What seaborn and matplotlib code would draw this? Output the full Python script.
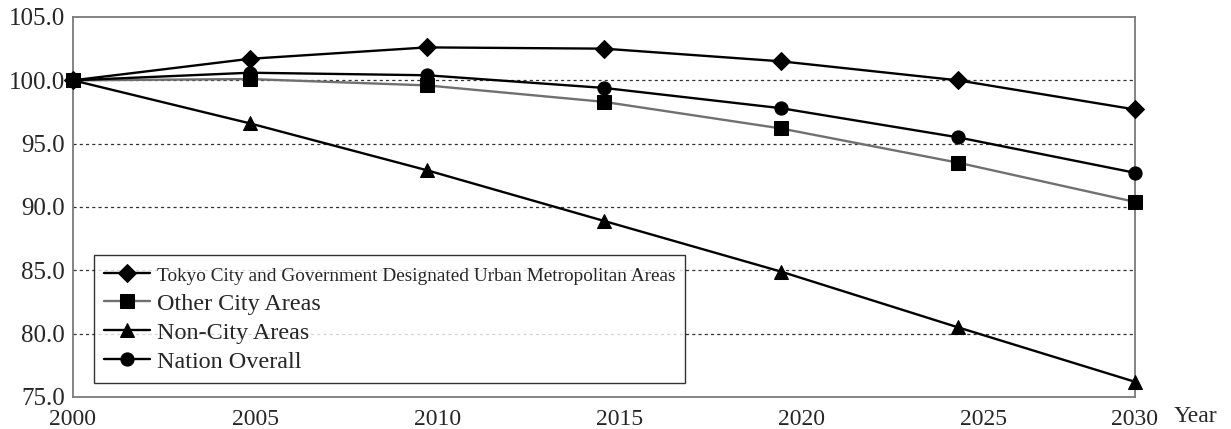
import pandas as pd
import matplotlib
matplotlib.use("Agg")
import matplotlib.pyplot as plt
import matplotlib.transforms as mtransforms
import seaborn as sns

# ==========================================================
# Data (index, 2000 = 100)
# ==========================================================

years = [2000, 2005, 2010, 2015, 2020, 2025, 2030]

tokyo = [100.0, 101.7, 102.6, 102.5, 101.5, 100.0, 97.7]
other_city = [100.0, 100.1, 99.6, 98.3, 96.2, 93.5, 90.4]
non_city = [100.0, 96.6, 92.9, 88.9, 84.9, 80.5, 76.2]
nation = [100.0, 100.6, 100.4, 99.4, 97.8, 95.5, 92.7]

series_names = [
    "Tokyo City and Government Designated Urban Metropolitan Areas",
    "Other City Areas",
    "Non-City Areas",
    "Nation Overall",
]

y_ticks = [75.0, 80.0, 85.0, 90.0, 95.0, 100.0, 105.0]

# ==========================================================
# Plot
# ==========================================================

sns.set_style("white")
plt.rcParams["font.family"] = ["Liberation Serif", "DejaVu Serif"]

fig = plt.figure(figsize=(12.31, 4.29), dpi=100)
ax = fig.add_axes([0.0593, 0.0746, 0.8627, 0.8858])

styles = [
    (tokyo, "D", 9, "black"),
    (other_city, "s", 9.5, "#707070"),
    (non_city, "^", 9.5, "black"),
    (nation, "o", 9.5, "black"),
]

for name, (vals, mk, ms, col) in zip(series_names, styles):
    df = pd.DataFrame({"year": years, "value": vals})
    sns.lineplot(
        data=df, x="year", y="value", ax=ax,
        color=col, linewidth=1.7,
        marker=mk, markersize=ms,
        markerfacecolor="black", markeredgecolor="black",
        label=name, clip_on=False, zorder=3
    )

ax.set_xlim(years[0], years[-1])
ax.set_ylim(y_ticks[0], y_ticks[-1])
ax.set_xticks(years)
ax.set_xticklabels([str(y) for y in years], fontsize=17)
ax.set_yticks(y_ticks)
ax.set_yticklabels([f"{v:.1f}" for v in y_ticks], fontsize=18)
ax.tick_params(axis="x", length=0, pad=9)
ax.tick_params(axis="y", length=0, pad=6)
ax.set_xlabel("")
ax.set_ylabel("")

# the category labels drift a little to the right of the data points,
# except the last one which sits on the right edge
labels = ax.get_xticklabels()
for i, lab in enumerate(labels[:-1]):
    shift = mtransforms.ScaledTranslation(i * 5.2 / 100, 0, fig.dpi_scale_trans)
    lab.set_transform(lab.get_transform() + shift)

for v in y_ticks[1:-1]:
    ax.axhline(v, color="#333333", linewidth=0.9, linestyle=(0, (2.5, 2.5)), zorder=1)

for sp in ax.spines.values():
    sp.set_color("#7a7a7a")
    sp.set_linewidth(1.3)

fig.text(1195 / 1231, 1 - 416 / 429, "Year", fontsize=17, ha="center", va="center")

leg = ax.legend(
    loc="lower left", bbox_to_anchor=(0.0198, 0.038),
    fontsize=17.4, frameon=True, fancybox=False,
    handlelength=1.9, handletextpad=0.3, borderpad=0.4,
    labelspacing=0.3, borderaxespad=0
)
leg.get_frame().set_edgecolor("black")
leg.get_frame().set_linewidth(1.0)
leg.get_texts()[0].set_fontsize(13.9)

fig.savefig("out.png", dpi=100)
plt.close(fig)
